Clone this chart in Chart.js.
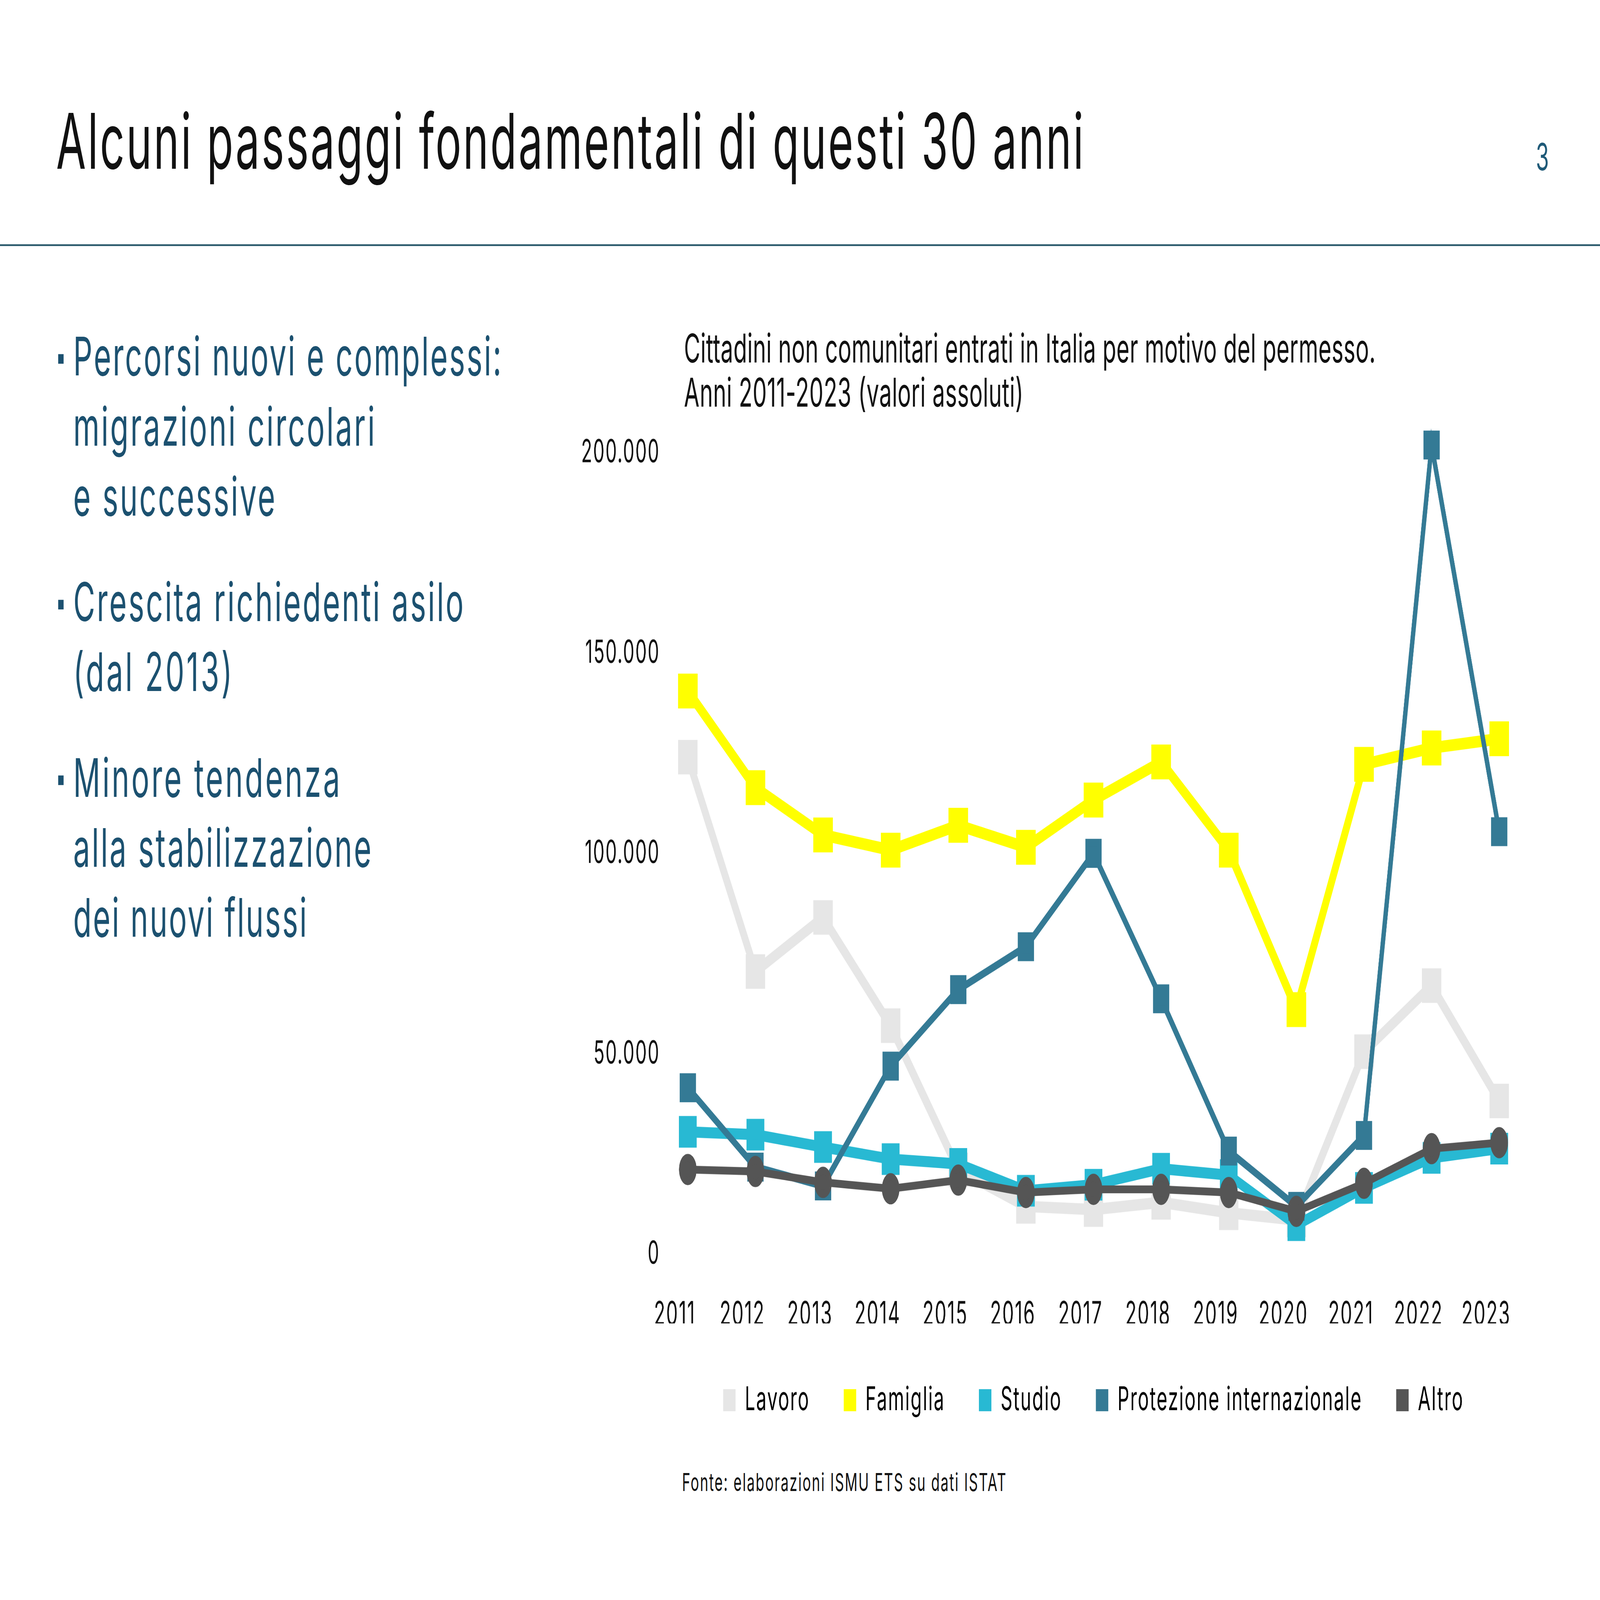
<!DOCTYPE html>
<html lang="it">
<head>
<meta charset="utf-8">
<title>Cittadini non comunitari entrati in Italia</title>
<script src="https://cdn.jsdelivr.net/npm/chart.js@4.4.1/dist/chart.umd.min.js"></script>
<style>
  html, body { margin: 0; padding: 0; background: #fff; overflow: hidden; }
  #stage { position: absolute; left: 0; top: 0; width: 8000px; height: 4500px; transform-origin: 0 0;
           background: #fff; font-family: Inter, Roboto, "Noto Sans", sans-serif; }
  .t { position: absolute; white-space: nowrap; }
  .sq { position: absolute; width: 27px; height: 27px; background: #1c5170; }
  #rule { position: absolute; left: 0; top: 687px; width: 8000px; height: 5px; background: #2b5a6c; }
  #wrap { position: absolute; left: 2800px; top: 1080px; width: 5000px; height: 2930px; }
</style>
</head>
<body>
<div id="stage">
  <div class="t" data-x="281" data-base="475" data-size="216" data-w="5137" style="color:#111">Alcuni passaggi fondamentali di questi 30 anni</div>
  <div class="t" data-x="7679" data-base="479" data-size="106" style="color:#1f5a78">3</div>
  <div id="rule"></div>

  <div class="sq" style="left:291px; top:996px"></div>
  <div class="t" data-x="366" data-base="1056" data-size="150" data-w="2141" style="color:#1c5170">Percorsi nuovi e complessi:</div>
  <div class="t" data-x="366" data-base="1253" data-size="150" data-w="1508" style="color:#1c5170">migrazioni circolari</div>
  <div class="t" data-x="366" data-base="1450" data-size="150" data-w="1010" style="color:#1c5170">e successive</div>

  <div class="sq" style="left:291px; top:1687px"></div>
  <div class="t" data-x="366" data-base="1747" data-size="150" data-w="1952" style="color:#1c5170">Crescita richiedenti asilo</div>
  <div class="t" data-x="366" data-base="1944" data-size="150" data-w="795" style="color:#1c5170">(dal 2013)</div>

  <div class="sq" style="left:291px; top:2181px"></div>
  <div class="t" data-x="366" data-base="2241" data-size="150" data-w="1334" style="color:#1c5170">Minore tendenza</div>
  <div class="t" data-x="366" data-base="2438" data-size="150" data-w="1491" style="color:#1c5170">alla stabilizzazione</div>
  <div class="t" data-x="366" data-base="2634" data-size="150" data-w="1168" style="color:#1c5170">dei nuovi flussi</div>

  <div class="t" data-x="3420" data-base="1019" data-size="112" data-w="3458" style="color:#111">Cittadini non comunitari entrati in Italia per motivo del permesso.</div>
  <div class="t" data-x="3420" data-base="1144" data-size="112" data-w="1697" style="color:#111">Anni 2011-2023 (valori assoluti)</div>

  <div id="wrap"><canvas id="permessiChart" width="5000" height="2930"></canvas></div>

  <div class="t" data-x="3410" data-base="4194" data-size="70" data-w="1620" style="color:#111">Fonte: elaborazioni ISMU ETS su dati ISTAT</div>
</div>

<script>
// anni
const years = ['2011', '2012', '2013', '2014', '2015', '2016', '2017', '2018', '2019', '2020', '2021', '2022', '2023'];

// valori (stime)
const lavoro     = [124000, 70500, 84000, 57000, 21000, 11900, 11100, 12900, 10300, 8500, 50500, 67000, 38200];
const famiglia   = [140500, 116400, 104600, 100800, 107000, 101500, 113300, 122800, 100800, 61000, 122200, 126300, 128600];
const studio     = [30500, 29800, 26700, 23700, 22500, 15800, 17300, 21300, 19700, 7200, 16500, 24000, 26300];
const protezione = [41500, 21700, 17000, 46900, 66000, 76700, 100000, 63700, 25700, 11900, 29600, 201900, 105400];
const altro      = [21100, 20600, 17900, 16300, 18450, 15350, 16150, 16150, 15350, 10650, 17650, 26300, 27800];

const seriesNames = ['Lavoro', 'Famiglia', 'Studio', 'Protezione internazionale', 'Altro'];
const seriesColors = ['#e6e6e6', '#ffff00', '#28b9d3', '#347a95', '#555555'];

const yMax = 200000;
const yStep = 50000;

const FONT = 'Inter, Roboto, "Noto Sans", sans-serif';

// the slide is drawn at 8000x4500 and scaled to whatever window we get
const stage = document.getElementById('stage');
stage.style.transform = 'scale(' + (window.innerWidth / 8000) + ',' + (window.innerHeight / 4500) + ')';

// place text lines on their baselines, stretch letter spacing to the measured width
document.querySelectorAll('.t').forEach(el => {
    const size = +el.dataset.size;
    el.style.fontSize = size + 'px';
    el.style.lineHeight = (size * 1.2) + 'px';
    el.style.left = el.dataset.x + 'px';
    el.style.top = (+el.dataset.base - 0.9633 * size) + 'px';
    if (el.dataset.w) {
        const n = el.textContent.length - 1;
        const ls = (+el.dataset.w - el.getBoundingClientRect().width / (window.innerWidth / 8000)) / n;
        el.style.letterSpacing = Math.max(-8, Math.min(14, ls)) + 'px';
    }
});

function formatIt(v) {
    return String(v).replace(/\B(?=(\d{3})+(?!\d))/g, '.');
}

// same stretch for the canvas texts, taken from the longest legend label
const mctx = document.createElement('canvas').getContext('2d');
mctx.font = '92px ' + FONT;
const chartSpacing = Math.max(0, Math.min(10, (1219 - mctx.measureText('Protezione internazionale').width) / 24));

const spacingPlugin = {
    id: 'spacing',
    beforeLayout(chart) { chart.ctx.letterSpacing = chartSpacing + 'px'; },
    beforeDraw(chart) { chart.ctx.letterSpacing = chartSpacing + 'px'; }
};

Chart.defaults.font.family = FONT;
Chart.defaults.color = '#111';

const ctx = document.getElementById('permessiChart').getContext('2d');
const permessiChart = new Chart(ctx, {
    type: 'line',
    plugins: [spacingPlugin],
    data: {
        labels: years,
        datasets: [
            { label: seriesNames[0], data: lavoro, borderColor: seriesColors[0], backgroundColor: seriesColors[0],
              borderWidth: 32, pointStyle: 'rect', pointRadius: 46, order: 4 },
            { label: seriesNames[1], data: famiglia, borderColor: seriesColors[1], backgroundColor: seriesColors[1],
              borderWidth: 33, pointStyle: 'rect', pointRadius: 46, order: 3 },
            { label: seriesNames[2], data: studio, borderColor: seriesColors[2], backgroundColor: seriesColors[2],
              borderWidth: 31, pointStyle: 'rect', pointRadius: 41, order: 2 },
            { label: seriesNames[3], data: protezione, borderColor: seriesColors[3], backgroundColor: seriesColors[3],
              borderWidth: 22, pointStyle: 'rect', pointRadius: 42, order: 1 },
            { label: seriesNames[4], data: altro, borderColor: seriesColors[4], backgroundColor: seriesColors[4],
              borderWidth: 22, pointStyle: 'circle', pointRadius: 33, order: 0 }
        ]
    },
    options: {
        responsive: false,
        devicePixelRatio: 1,
        animation: false,
        layout: { padding: { top: 100, right: 304, bottom: 16, left: 0 } },
        elements: {
            line: { tension: 0, fill: false },
            point: { borderWidth: 0, hoverBorderWidth: 0 }
        },
        datasets: { line: { clip: false } },
        scales: {
            x: {
                grid: { display: false, drawTicks: false },
                border: { display: false },
                afterFit: (scale) => { scale.height = 195; },
                ticks: {
                    font: { size: 92, lineHeight: 0.74 },
                    color: '#111',
                    padding: 137,
                    labelOffset: -65,
                    maxRotation: 0,
                    autoSkip: false
                }
            },
            y: {
                min: 0,
                max: yMax,
                grid: { display: false, drawTicks: false },
                border: { display: false },
                afterFit: (scale) => { scale.width = 639; },
                ticks: {
                    stepSize: yStep,
                    font: { size: 90 },
                    color: '#111',
                    padding: 139,
                    callback: (v) => formatIt(v)
                }
            }
        },
        plugins: {
            legend: {
                display: true,
                position: 'bottom',
                fullSize: false,
                labels: {
                    font: { size: 92 },
                    color: '#111',
                    boxWidth: 62,
                    boxHeight: 62,
                    padding: 170,
                    generateLabels: (chart) => chart.data.datasets.map((ds, i) => ({
                        text: ds.label,
                        fillStyle: ds.borderColor,
                        strokeStyle: ds.borderColor,
                        lineWidth: 0,
                        hidden: false,
                        datasetIndex: i
                    }))
                }
            },
            tooltip: { enabled: false }
        }
    }
});
</script>
</body>
</html>
